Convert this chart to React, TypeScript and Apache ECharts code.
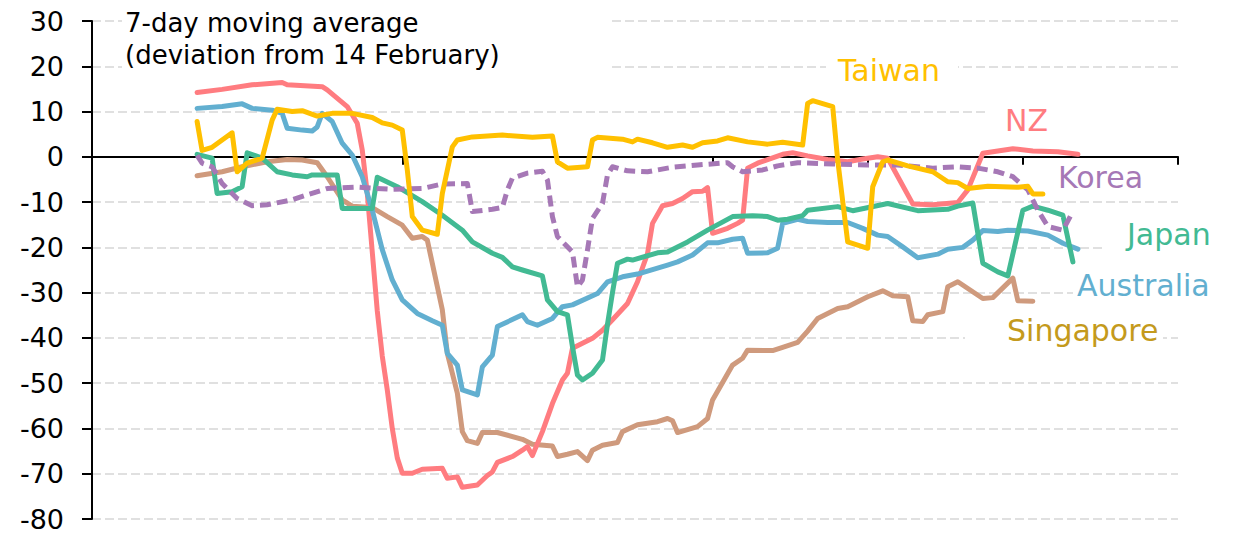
import React, { useEffect, useRef } from "react";
import * as echarts from "echarts";

const FONT = '"DejaVu Sans", sans-serif';

// x = day index on the timeline (axis spans 0..217, ticks every 31 days)
const yTicks = { min: -80, max: 30, interval: 10 };

const taiwan: [number, number][] = [
  [21, 7.8], [22, 1.4], [24, 2.1], [28, 5.3], [29, -3.3], [31, -1.4], [34, -0.3], [36, 8.1],
  [37, 10.5], [40, 10.0], [42, 10.2], [45, 9.0], [48, 9.6], [52, 9.6], [56, 8.7], [58, 7.5],
  [60, 7.0], [62, 5.9], [63, -2.9], [64, -13.2], [66, -16.2], [69, -17.1], [70, -8.1], [72, 2.2],
  [73, 3.7], [76, 4.4], [82, 4.8], [88, 4.3], [92, 4.6], [93, -1.1], [95, -2.5], [99, -2.2],
  [100, 3.7], [101, 4.3], [106, 3.9], [108, 3.3], [109, 3.9], [112, 3.1], [115, 2.1], [118, 2.6],
  [120, 2.1], [122, 3.1], [125, 3.5], [127, 4.2], [131, 3.3], [135, 2.8], [138, 3.2], [142, 2.6],
  [143, 11.8], [144, 12.4], [148, 11.1], [149, -0.7], [151, -18.8], [155, -20.2], [156, -6.6],
  [158, -1.1], [159, -0.7], [163, -2.0], [168, -3.3], [171, -5.5], [173, -5.7], [175, -7.0],
  [179, -6.5], [182, -6.6], [185, -6.7], [187, -6.5], [188, -8.2], [190, -8.2],
];

const nz: [number, number][] = [
  [21, 14.2], [26, 14.9], [32, 15.9], [38, 16.4], [39, 15.9], [46, 15.5], [47, 14.8], [51, 11.1],
  [53, 7.4], [54, 1.5], [55, -8.0], [56, -21.0], [57, -34.0], [58, -44.0], [59, -51.5], [60, -60.0],
  [61, -66.5], [62, -69.9], [64, -69.9], [66, -69.0], [70, -68.8], [71, -71.0], [73, -70.7],
  [74, -73.0], [77, -72.5], [79, -70.4], [80, -69.6], [81, -67.5], [84, -66.2], [86, -64.8],
  [87, -64.0], [88, -66.0], [90, -60.7], [92, -54.5], [94, -49.3], [95, -47.8], [96, -42.3],
  [100, -40.1], [102, -38.3], [104, -36.0], [107, -32.4], [109, -27.6], [111, -21.4], [112, -14.7],
  [114, -10.8], [116, -10.3], [118, -9.2], [120, -7.7], [122, -7.6], [123, -6.8], [124, -16.9],
  [127, -15.8], [129, -14.7], [130, -14.0], [131, -2.5], [133, -1.4], [135, -0.6], [138, 0.55],
  [140, 0.9], [143, 0.2], [147, -0.6], [151, -1.1], [154, -0.5], [157, 0.0], [159, -0.3],
  [164, -10.4], [168, -10.6], [173, -10.1], [175, -7.3], [178, 0.8], [181, 1.3], [184, 1.8],
  [188, 1.3], [193, 1.1], [197, 0.55],
];

const korea: [number, number][] = [
  [21, 0.3], [22, -1.4], [24, -2.2], [26, -5.9], [29, -9.2], [32, -10.8], [35, -10.6], [40, -9.5],
  [43, -8.4], [47, -7.0], [53, -6.7], [60, -7.2], [66, -7.0], [70, -6.0], [75, -5.9], [76, -12.1],
  [80, -11.6], [82, -11.2], [83, -7.3], [84, -4.7], [87, -3.6], [90, -3.2], [91, -5.1], [92, -13.2],
  [93, -17.6], [96, -21.0], [97, -28.7], [98, -27.2], [99, -20.6], [100, -13.6], [102, -10.3],
  [103, -4.0], [104, -2.2], [107, -3.1], [111, -3.3], [116, -2.3], [121, -1.8], [127, -1.3],
  [128, -2.2], [130, -3.3], [134, -2.9], [137, -2.0], [141, -1.3], [148, -1.6], [155, -1.8],
  [161, -1.8], [168, -2.5], [173, -2.2], [177, -2.5], [181, -3.3], [184, -4.4], [187, -7.3],
  [189, -11.8], [191, -15.4], [194, -16.2], [196, -12.1],
];

const japan: [number, number][] = [
  [21, 0.55], [24, -0.3], [25, -8.1], [28, -7.7], [30, -6.6], [31, 0.9], [34, -0.3], [37, -3.3],
  [40, -4.0], [43, -4.4], [44, -4.0], [49, -4.0], [50, -11.4], [56, -11.4], [57, -4.5], [61, -6.6],
  [66, -9.9], [70, -12.9], [74, -16.2], [76, -18.8], [80, -21.3], [82, -22.2], [84, -24.3],
  [86, -25.0], [90, -26.3], [91, -31.6], [93, -34.2], [95, -34.9], [96, -41.9], [97, -48.2],
  [98, -49.3], [100, -47.8], [102, -44.9], [103, -37.0], [104, -30.0], [105, -23.5], [107, -22.6],
  [108, -22.8], [113, -21.2], [115, -21.0], [119, -18.8], [123, -16.2], [128, -13.2], [132, -13.0],
  [135, -13.2], [137, -14.0], [139, -13.8], [142, -13.0], [143, -11.8], [149, -11.0], [152, -11.9],
  [159, -10.3], [165, -11.9], [171, -11.6], [173, -10.9], [176, -10.2], [178, -23.5], [181, -25.4],
  [183, -26.3], [186, -11.8], [188, -10.9], [191, -11.8], [194, -12.9], [196, -23.2],
];

const australia: [number, number][] = [
  [21, 10.7], [26, 11.1], [30, 11.7], [32, 10.7], [36, 10.3], [38, 9.6], [39, 6.3], [42, 5.9],
  [44, 5.7], [45, 6.6], [46, 9.6], [48, 7.8], [50, 3.0], [52, 0.4], [54, -4.4], [56, -11.8],
  [58, -20.5], [60, -27.2], [62, -31.6], [65, -34.6], [68, -36.2], [70, -37.2], [71, -43.4],
  [73, -46.0], [74, -51.5], [77, -52.6], [78, -46.4], [80, -43.8], [81, -37.5], [86, -34.9],
  [87, -36.4], [89, -37.2], [92, -35.7], [94, -33.1], [96, -32.7], [101, -30.2], [103, -27.6],
  [106, -26.5], [109, -25.9], [112, -24.9], [115, -23.9], [117, -23.2], [120, -21.7], [123, -19.0],
  [125, -19.0], [128, -18.2], [130, -18.0], [131, -21.3], [135, -21.2], [137, -20.2], [138, -14.7],
  [141, -13.8], [143, -14.3], [147, -14.5], [151, -14.5], [154, -15.8], [157, -17.3], [159, -17.6],
  [162, -19.9], [165, -22.3], [169, -21.5], [171, -20.4], [174, -20.0], [176, -18.4], [178, -16.3],
  [181, -16.5], [183, -16.2], [187, -16.4], [191, -17.3], [194, -19.1], [197, -20.4],
];

const singapore: [number, number][] = [
  [21, -4.2], [26, -3.3], [30, -2.2], [35, -1.1], [39, -0.6], [42, -0.7], [45, -1.3], [47, -4.4],
  [50, -9.5], [52, -10.9], [56, -11.2], [59, -13.2], [62, -15.1], [64, -18.0], [66, -17.6],
  [67, -18.4], [70, -33.8], [71, -43.4], [73, -52.2], [74, -60.7], [75, -62.7], [77, -63.3],
  [78, -60.9], [81, -60.9], [86, -62.4], [88, -63.5], [92, -63.9], [93, -66.2], [95, -65.7],
  [97, -65.1], [99, -67.1], [100, -64.8], [102, -63.7], [105, -63.1], [106, -60.7], [109, -59.2],
  [113, -58.5], [115, -57.8], [116, -58.3], [117, -60.9], [121, -59.6], [123, -57.8], [124, -53.7],
  [128, -46.0], [130, -44.5], [131, -42.7], [136, -42.8], [138, -42.1], [141, -41.0], [143, -38.5],
  [145, -35.7], [149, -33.5], [151, -33.1], [155, -30.9], [158, -29.6], [160, -30.7], [163, -30.9],
  [164, -36.2], [166, -36.4], [167, -34.9], [170, -34.2], [171, -28.7], [173, -27.6], [178, -31.3],
  [180, -31.1], [184, -26.8], [185, -31.8], [188, -31.9],
];

const titleLines = ["7-day moving average", "(deviation from 14 February)"];

const seriesDefs = [
  { name: "Singapore", data: singapore, color: "#CF9A7D", dashed: false },
  { name: "NZ", data: nz, color: "#FF7C80", dashed: false },
  { name: "Australia", data: australia, color: "#62AFD0", dashed: false },
  { name: "Japan", data: japan, color: "#42BA93", dashed: false },
  { name: "Korea", data: korea, color: "#A678B6", dashed: true },
  { name: "Taiwan", data: taiwan, color: "#FFC000", dashed: false },
];

const labelDefs = [
  { text: "Taiwan", x: 838, y: 70, color: "#FFC000", box: [826, 52, 132, 36] },
  { text: "NZ", x: 1005, y: 120, color: "#FF7C80", box: [988, 102, 190, 34] },
  { text: "Korea", x: 1058, y: 177, color: "#A678B6", box: null },
  { text: "Japan", x: 1127, y: 234, color: "#42BA93", box: [1103, 216, 80, 36] },
  { text: "Australia", x: 1077, y: 285, color: "#62AFD0", box: [1073, 270, 110, 30] },
  { text: "Singapore", x: 1007, y: 330, color: "#C49A1C", box: [965, 316, 198, 34] },
];

export default function App() {
  const ref = useRef<HTMLDivElement>(null);

  useEffect(() => {
    document.body.style.margin = "0";
    const chart = echarts.init(ref.current!, null, { renderer: "svg" });

    const graphics: any[] = [];
    graphics.push({
      type: "rect",
      silent: true,
      z: 1,
      shape: { x: 122, y: 4, width: 490, height: 74 },
      style: { fill: "#ffffff" },
    });
    titleLines.forEach((t, i) => {
      graphics.push({
        type: "text",
        silent: true,
        z: 10,
        x: 125,
        y: 23 + i * 32,
        style: {
          text: t,
          fill: "#000000",
          fontSize: 26,
          fontFamily: FONT,
          align: "left",
          verticalAlign: "middle",
        },
      });
    });
    labelDefs.forEach((l) => {
      if (l.box) {
        graphics.push({
          type: "rect",
          silent: true,
          z: 1,
          shape: { x: l.box[0], y: l.box[1], width: l.box[2], height: l.box[3] },
          style: { fill: "#ffffff" },
        });
      }
      graphics.push({
        type: "text",
        silent: true,
        z: 10,
        x: l.x,
        y: l.y,
        style: {
          text: l.text,
          fill: l.color,
          fontSize: 30,
          fontFamily: FONT,
          align: "left",
          verticalAlign: "middle",
        },
      });
    });

    chart.setOption({
      animation: false,
      backgroundColor: "#ffffff",
      grid: { left: 92, right: 56, top: 21, bottom: 21, containLabel: false },
      xAxis: {
        type: "value",
        min: 0,
        max: 217,
        interval: 31,
        axisLine: { show: true, onZero: true, lineStyle: { color: "#000000", width: 2 } },
        axisTick: { show: true, length: 8, lineStyle: { color: "#000000", width: 2 } },
        axisLabel: { show: false },
        splitLine: { show: false },
      },
      yAxis: {
        type: "value",
        min: yTicks.min,
        max: yTicks.max,
        interval: yTicks.interval,
        axisLine: { show: true, lineStyle: { color: "#000000", width: 2 } },
        axisTick: { show: true, length: 10, lineStyle: { color: "#000000", width: 2 } },
        axisLabel: { color: "#000000", fontSize: 27, fontFamily: FONT, margin: 28 },
        splitLine: {
          show: true,
          lineStyle: { color: "#D6D6D6", width: 1.5, type: [9, 4] },
        },
      },
      graphic: { elements: graphics },
      series: seriesDefs.map((s, i) => ({
        name: s.name,
        type: "line",
        data: s.data,
        showSymbol: false,
        symbol: "none",
        z: 3 + i,
        lineStyle: {
          color: s.color,
          width: 5,
          type: s.dashed ? [11, 6] : "solid",
          join: "round",
          cap: s.dashed ? "butt" : "round",
        },
      })),
    });

    return () => chart.dispose();
  }, []);

  return <div ref={ref} style={{ width: 1234, height: 540, background: "#fff" }} />;
}
